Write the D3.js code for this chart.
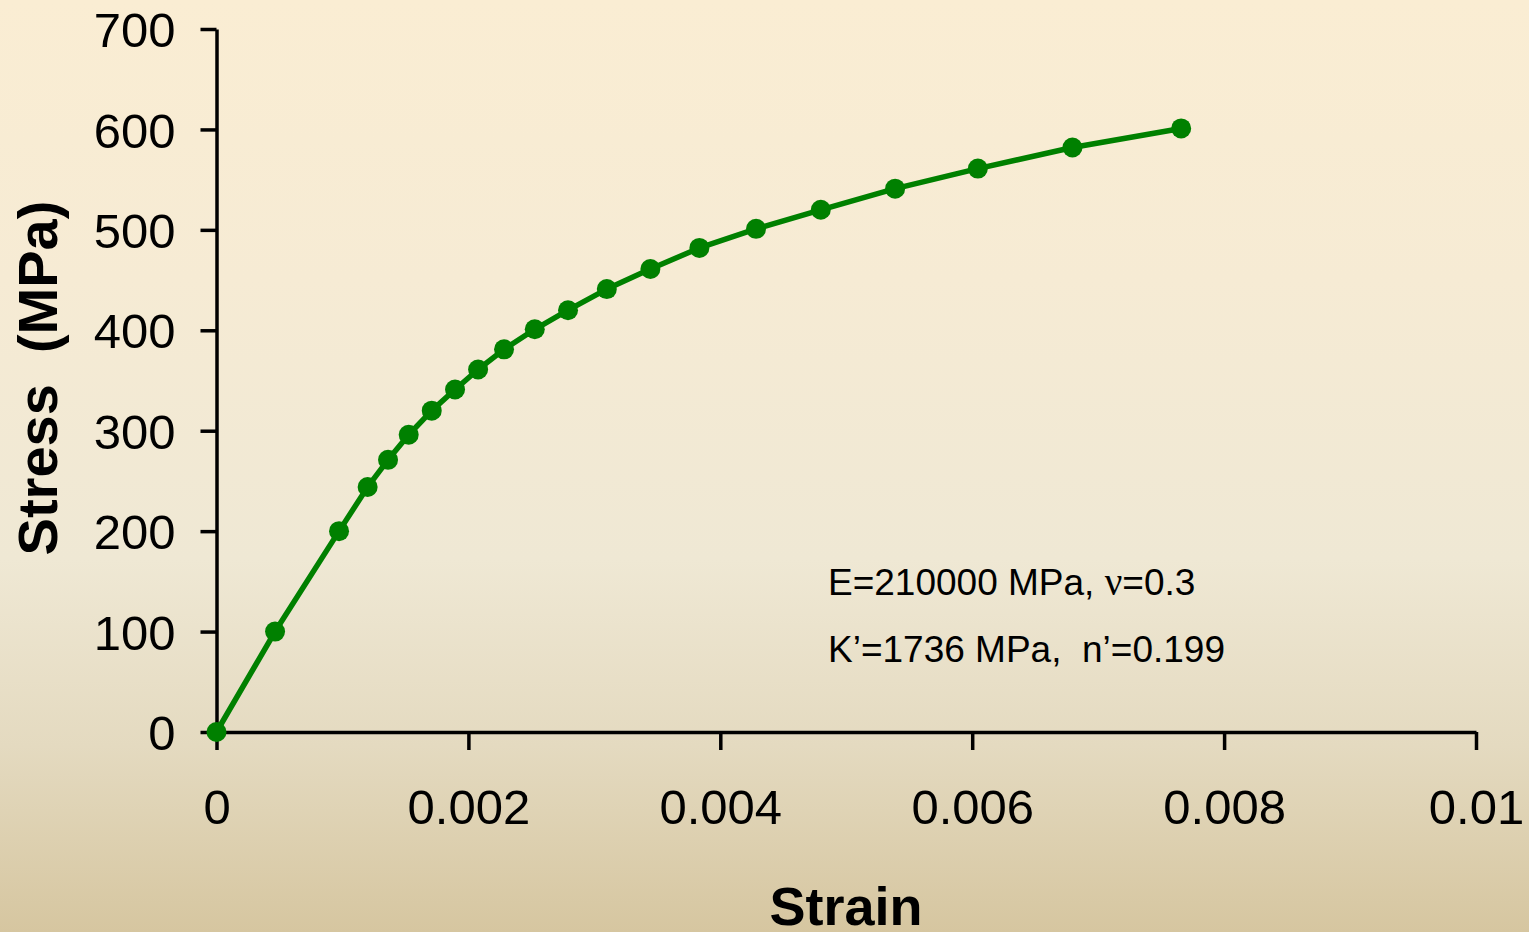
<!DOCTYPE html>
<html>
<head>
<meta charset="utf-8">
<script src="https://cdn.jsdelivr.net/npm/d3@7"></script>
<style>
  html, body { margin: 0; padding: 0; }
  body { width: 1529px; height: 932px; overflow: hidden; }
  svg text { font-family: "Liberation Sans", Arial, sans-serif; white-space: pre; }
</style>
</head>
<body>
<svg id="chart" width="1529" height="932"></svg>
<script>
// ---- data ----
const strain = [0, 0.000465, 0.000973, 0.00120, 0.001362, 0.001526, 0.001709, 0.001894,
                0.002077, 0.002283, 0.002527, 0.002791, 0.003099, 0.003445, 0.003834,
                0.004284, 0.004798, 0.005388, 0.006045, 0.006796, 0.007659];
const stress = [0, 100, 200, 244, 271, 296, 320, 341, 361, 381, 401, 420, 441, 461, 482,
                501, 520, 541, 561, 582, 601];
const xTicks = [0, 0.002, 0.004, 0.006, 0.008, 0.01];
const xTickLabels = ["0", "0.002", "0.004", "0.006", "0.008", "0.01"];
const yTicks = [0, 100, 200, 300, 400, 500, 600, 700];
const xTitle = "Strain";
const yTitle = "Stress  (MPa)";
const noteLines = [["E=210000 MPa, ", "ν", "=0.3"], ["K’=1736 MPa,  n’=0.199", "", ""]];

const points = strain.map((s, i) => ({ x: s, y: stress[i] }));

const svg = d3.select("#chart");

// background gradient
const defs = svg.append("defs");
const grad = defs.append("linearGradient").attr("id", "bg")
  .attr("x1", 0).attr("y1", 0).attr("x2", 0).attr("y2", 1);
grad.append("stop").attr("offset", "0%").attr("stop-color", "#faedd3");
grad.append("stop").attr("offset", "30%").attr("stop-color", "#f6ebd4");
grad.append("stop").attr("offset", "60%").attr("stop-color", "#efe8d4");
grad.append("stop").attr("offset", "80%").attr("stop-color", "#e4dac0");
grad.append("stop").attr("offset", "100%").attr("stop-color", "#d6c6a0");
svg.append("rect").attr("width", 1529).attr("height", 932).attr("fill", "url(#bg)");

const x = d3.scaleLinear().domain([0, 0.01]).range([216.5, 1476]);
const y = d3.scaleLinear().domain([0, 700]).range([732, 29]);

// axes
const xAxis = svg.append("g").attr("transform", `translate(0,${y(0)})`)
  .call(d3.axisBottom(x).tickValues(xTicks).tickFormat((d, i) => xTickLabels[i])
        .tickSize(18).tickSizeOuter(0).tickPadding(39));
const yAxis = svg.append("g").attr("transform", `translate(${x(0)},0)`)
  .call(d3.axisLeft(y).tickValues(yTicks).tickFormat(d3.format("d"))
        .tickSize(16).tickSizeOuter(0).tickPadding(25));

[xAxis, yAxis].forEach(g => {
  g.select(".domain").attr("stroke", "#000").attr("stroke-width", 3.5);
  g.selectAll(".tick line").attr("stroke", "#000").attr("stroke-width", 3.5);
  g.selectAll(".tick text").attr("fill", "#000").style("font-size", "49px")
    .style("font-family", "'Liberation Sans', Arial, sans-serif");
});
xAxis.selectAll(".tick text").attr("dy", "0.71em");
yAxis.selectAll(".tick text").attr("dy", "0.36em");

// line and markers
const line = d3.line().x(d => x(d.x)).y(d => y(d.y));
svg.append("path").datum(points)
  .attr("d", line).attr("fill", "none")
  .attr("stroke", "#008000").attr("stroke-width", 5.5).attr("stroke-linejoin", "round");
svg.append("g").selectAll("circle").data(points).join("circle")
  .attr("cx", d => x(d.x)).attr("cy", d => y(d.y)).attr("r", 10).attr("fill", "#008000");

// titles
svg.append("text").attr("x", 846).attr("y", 925).attr("text-anchor", "middle")
  .style("font-size", "54px").style("font-weight", "bold").attr("fill", "#000").text(xTitle);
svg.append("text").attr("transform", "translate(57,378) rotate(-90)")
  .attr("text-anchor", "middle")
  .style("font-size", "56px").style("font-weight", "bold").attr("fill", "#000").text(yTitle);

// annotation
const note = svg.append("g");
noteLines.forEach((parts, i) => {
  const t = note.append("text").attr("x", 828).attr("y", 595 + i * 67)
    .style("font-size", "37px").attr("fill", "#000");
  t.append("tspan").text(parts[0]);
  if (parts[1]) t.append("tspan").style("font-family", "'Liberation Serif', 'Times New Roman', serif")
    .style("font-size", "39px").text(parts[1]);
  if (parts[2]) t.append("tspan").text(parts[2]);
});
</script>
</body>
</html>
